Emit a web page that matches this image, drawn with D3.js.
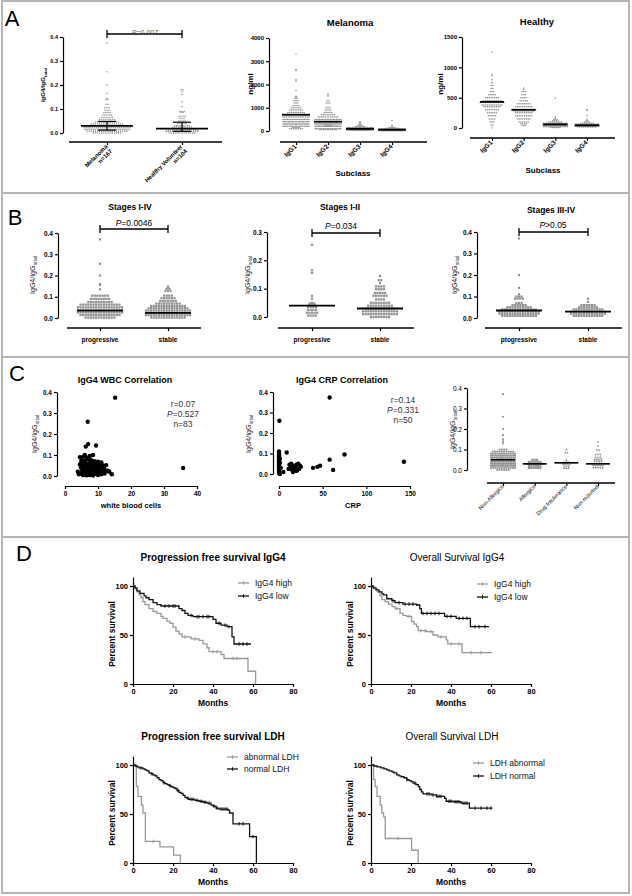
<!DOCTYPE html>
<html><head><meta charset="utf-8">
<script src="https://cdn.jsdelivr.net/npm/d3@7"></script>
<style>body{margin:0;background:#fff}svg{display:block}</style>
</head><body><script>
// ================= DATA =================
// Panel A left: IgG4/IgGtotal, rows of [value, count]
const aLeftCats = ["Melanoma", "Healthy Volunteer"];
const aLeftN = ["n=167", "n=104"];
const aLeftMelanoma = [[0.375,1],[0.255,1],[0.2,1],[0.165,1],[0.145,1],[0.14,2],[0.12,2],[0.105,3],[0.095,3],[0.085,4],[0.075,5],[0.065,6],[0.055,8],[0.046,12],[0.038,16],[0.03,22],[0.022,23],[0.015,22],[0.007,20],[0,14]];
const aLeftHealthy = [[0.18,2],[0.172,1],[0.16,1],[0.13,1],[0.11,1],[0.09,3],[0.085,2],[0.07,4],[0.06,3],[0.05,4],[0.04,5],[0.03,8],[0.025,10],[0.018,14],[0.012,16],[0.006,16],[0,13]];
const aLeftMedian = [0.03, 0.018];
const aLeftQ1 = [0.012, 0.007];
const aLeftQ3 = [0.048, 0.045];
const aLeftTicks = [0, 0.1, 0.2, 0.3, 0.4];

// Panel A middle / right: subclasses (ng/ml)
const subclasses = ["IgG1", "IgG2", "IgG3", "IgG4"];
const melIgG1 = [[3300,1],[2650,1],[2600,1],[2200,1],[2150,1],[1750,1],[1500,1],[1450,2],[1400,2],[1300,3],[1200,3],[1100,4],[1000,6],[900,8],[800,10],[700,14],[600,16],[500,18],[400,20],[300,22],[200,18],[150,5],[100,8]];
const melIgG2 = [[1600,1],[1550,1],[1500,1],[1300,2],[1200,3],[1000,3],[900,4],[800,5],[700,8],[600,12],[500,18],[400,24],[300,26],[250,5],[200,24],[100,20],[50,10]];
const melIgG3 = [[400,1],[380,1],[350,1],[300,2],[250,3],[200,6],[150,20],[120,25],[100,30],[80,30],[60,25],[40,20],[20,10]];
const melIgG4 = [[450,1],[250,1],[200,1],[150,4],[120,8],[100,15],[80,25],[60,35],[40,35],[25,30],[10,12]];
const melMedian = [700, 400, 90, 55];
const melTicks = [0, 1000, 2000, 3000, 4000];
const heaIgG1 = [[1250,1],[880,1],[860,1],[800,1],[760,1],[740,1],[700,2],[650,2],[600,3],[550,5],[500,8],[450,12],[420,15],[380,12],[350,10],[300,8],[250,6],[200,5],[150,4],[100,3],[50,2],[0,1]];
const heaIgG2 = [[660,1],[640,1],[600,3],[550,3],[500,4],[450,5],[400,8],[350,10],[300,16],[280,12],[250,10],[200,10],[150,8],[100,6],[70,4],[40,3]];
const heaIgG3 = [[490,1],[180,1],[160,1],[140,3],[120,4],[100,8],[80,15],[60,25],[40,25],[20,15],[10,6]];
const heaIgG4 = [[310,1],[290,1],[200,1],[150,1],[120,2],[100,4],[80,8],[60,20],[45,30],[30,25],[15,11]];
const heaMedian = [430, 300, 60, 45];
const heaTicks = [0, 500, 1000, 1500];

// Panel B: progressive vs stable
const stageCats = ["progressive", "stable"];
const stageCats3 = ["ptogressive", "stable"];
const bAllProg = [[0.37,1],[0.255,1],[0.2,1],[0.16,1],[0.155,1],[0.135,1],[0.105,7],[0.09,8],[0.075,10],[0.063,16],[0.05,18],[0.038,18],[0.026,18],[0.014,16],[0.002,12]];
const bAllStable = [[0.148,1],[0.138,2],[0.128,3],[0.105,4],[0.093,6],[0.08,7],[0.068,10],[0.057,14],[0.046,16],[0.035,18],[0.024,18],[0.013,18],[0.002,14]];
const bAllMedian = [0.035, 0.024];
const bEarlyProg = [[0.255,1],[0.165,1],[0.155,1],[0.075,1],[0.065,1],[0.05,2],[0.045,3],[0.035,4],[0.025,4],[0.015,5],[0.005,4]];
const bEarlyStable = [[0.145,1],[0.13,2],[0.12,1],[0.108,4],[0.098,4],[0.085,5],[0.075,6],[0.062,4],[0.05,8],[0.04,10],[0.03,12],[0.02,14],[0.01,14],[0.0,8]];
const bEarlyMedian = [0.04, 0.03];
const bLateProg = [[0.37,1],[0.2,1],[0.14,1],[0.11,1],[0.1,3],[0.09,4],[0.07,3],[0.06,6],[0.05,10],[0.04,14],[0.03,16],[0.02,16],[0.01,14]];
const bLateStable = [[0.09,1],[0.075,1],[0.06,6],[0.05,8],[0.04,12],[0.03,14],[0.02,14],[0.01,12]];
const bLateMedian = [0.035, 0.03];
const ratioTicks4 = [0, 0.1, 0.2, 0.3, 0.4];
const ratioTicks3 = [0, 0.1, 0.2, 0.3];

// Panel C: correlations [x, IgG4 ratio]
const wbcPoints = [[15.2,0.373],[6.9,0.258],[7,0.152],[6.3,0.14],[9.4,0.145],[4.5,0.09],[5.5,0.092],[6.5,0.088],[7.5,0.095],[8.5,0.1],[6,0.1],[7,0.08],[8,0.075],[9,0.07],[10,0.068],[11,0.065],[5,0.075],[6,0.07],[7.5,0.065],[8.5,0.06],[9.5,0.058],[10.5,0.055],[11.5,0.05],[12.5,0.052],[5.5,0.055],[6.5,0.05],[7.5,0.045],[8.5,0.048],[9.5,0.042],[10.5,0.04],[11.5,0.038],[4.8,0.04],[5.8,0.038],[6.8,0.035],[7.8,0.033],[8.8,0.03],[9.8,0.032],[10.8,0.028],[12,0.03],[13,0.025],[5.2,0.025],[6.2,0.028],[7.2,0.022],[8.2,0.02],[9.2,0.018],[10.2,0.02],[11.2,0.015],[12.2,0.025],[13.4,0.02],[14.2,0.008],[4.2,0.008],[5,0.012],[6,0.01],[7,0.015],[8,0.008],[9,0.01],[10,0.005],[11,0.008],[6.5,0.003],[7.5,0.005],[8.5,0.002],[5.5,0.004],[35.8,0.038],[6.2,0.06],[7.2,0.058],[8.2,0.052],[9.2,0.05],[10.2,0.047],[4.5,0.055],[5.5,0.045],[6.5,0.042],[7.5,0.04],[8.5,0.037],[9.5,0.035],[10.5,0.033],[3.9,0.02],[12,0.012],[9.8,0.012],[6.8,0.02],[7.8,0.028],[8.8,0.043],[11.8,0.044],[5,0.065]];
const wbcStats = ["r=0.07", "P=0.527", "n=83"];
const wbcTicks = [0, 10, 20, 30, 40];
const crpPoints = [[0.4,0.26],[0,0.11],[0,0.1],[0,0.09],[0,0.085],[0,0.08],[0,0.07],[0,0.065],[0,0.06],[0,0.05],[0,0.045],[0,0.04],[0,0.035],[0,0.03],[0,0.025],[0,0.02],[0,0.015],[0,0.01],[0,0.005],[1,0.0],[1,0.055],[1,0.075],[2,0.03],[8.8,0.105],[12,0.045],[14,0.05],[16,0.04],[18,0.035],[20,0.045],[22,0.05],[24,0.04],[15,0.02],[17,0.025],[19,0.03],[21,0.02],[23,0.025],[13,0.03],[11,0.025],[25,0.035],[16,0.01],[20,0.015],[39,0.03],[44,0.035],[47,0.04],[58,0.373],[58,0.07],[62,0.02],[75,0.095],[143,0.06],[5,0.01]];
const crpStats = ["r=0.14", "P=0.331", "n=50"];
const crpTicks = [0, 50, 100, 150];
// Panel C right: allergy groups
const allergyCats = ["Non-Allergics", "Allergics", "Drug Intolerance", "Non-reported"];
const nonAllergics = [[0.37,1],[0.26,1],[0.2,1],[0.17,1],[0.15,1],[0.14,1],[0.13,1],[0.1,4],[0.09,10],[0.08,12],[0.07,14],[0.06,14],[0.05,16],[0.04,16],[0.03,16],[0.02,14],[0.01,12],[0.0,6]];
const allergics = [[0.05,3],[0.04,6],[0.03,8],[0.02,6],[0.01,6]];
const drugIntol = [[0.1,1],[0.085,2],[0.05,1],[0.04,3],[0.035,4],[0.03,4],[0.02,3],[0.01,3]];
const nonReported = [[0.135,1],[0.115,1],[0.095,2],[0.075,3],[0.06,3],[0.05,4],[0.04,4],[0.03,6],[0.02,5],[0.01,5]];
const allergyMedian = [0.05, 0.03, 0.035, 0.03];

// Panel D: Kaplan-Meier steps [month, % survival] and censor times
const monthTicks = [0, 20, 40, 60, 80];
const survTicks = [0, 50, 100];
const pfsIgG4High = [[0,100],[1,97],[2,94],[3,91],[4,88],[5,84],[6,81],[8,77],[10,74],[12,72],[14,69],[15,67],[17,64],[18.5,62],[20,58],[21.5,54],[23,51],[24.5,48],[29,46],[33,44.5],[35,41],[37,37],[38,33],[44,30],[45.5,26],[57.5,13],[61.3,0]];
const pfsIgG4HighCens = [26,31,40,42,50,52];
const pfsIgG4Low = [[0,100],[1,98],[2,95],[3.5,92.5],[5.5,90],[6.5,88],[8,86],[10,83],[12,81],[14,79.6],[23,77],[24.5,75],[26,72],[27.5,70],[30,68.7],[40,66],[41.5,62],[44,60],[47,58.5],[49.5,48],[50.5,40.8],[59,40.8]];
const pfsIgG4LowCens = [16,18,20,21,29,32,33,35,37,38,43,46,48,53,55,57];
const osIgG4High = [[0,100],[1.5,97],[3,94],[4.5,90],[5.4,86],[7,84],[8.7,81.6],[10.5,79],[12,77],[14.5,72],[16,70],[17.8,69],[20.3,64],[21.5,61],[22.8,58.5],[23.6,54.4],[27.7,53.4],[31,50],[33.5,48],[37.6,45],[38.4,41],[45.5,32],[60.7,32]];
const osIgG4HighCens = [13,19,25,27,30,35,40,44,50,55];
const osIgG4Low = [[0,100],[1,98],[2.5,96],[4,94],[5.5,92],[6.3,91],[7.9,87],[10.4,85],[12,83],[16,81.6],[22.8,80.6],[24.4,77],[25.2,72],[36,72],[36.8,69],[42.6,67],[49.2,67],[49.7,58.5],[59,58.5]];
const osIgG4LowCens = [11,14,17,19,21,26,28,30,32,34,38,40,44,46,48,52,54,57];
const pfsLdhAbn = [[0,100],[1.7,78],[2.5,68],[4.2,59],[5,51],[6.2,22],[13.5,16.4],[20.3,8],[23.7,0]];
const pfsLdhAbnCens = [10];
const pfsLdhNorm = [[0,100],[1,99],[2,98],[3,97],[5,96],[6,95],[7,94],[8,92],[9,91],[10,90],[11,89],[12,87],[13,85],[14,84],[15,82],[16,81],[17,80],[18,79],[19,78],[20,77],[21,76],[22,74],[23,72],[24,71],[25,69],[26,67],[27,66],[28,65],[31,64],[33,63],[35,62],[37,61],[39,59],[40,58],[41.5,56],[43,55],[47.5,54],[48.3,51],[50,40],[54,40],[58.3,27],[61.7,0]];
const pfsLdhNormCens = [4,9.5,15.5,18.5,22.5,27.5,29,30,32,34,36,38,40.5,42,44,45,46,47,53,55,60];
const osLdhAbn = [[0,100],[1.3,85],[2.1,78],[3,68],[4.6,59],[5.4,51],[6.3,47],[7.1,25],[20.3,13],[23.6,0]];
const osLdhAbnCens = [13.5];
const osLdhNorm = [[0,100],[1.5,99],[3,98],[5,97],[6.5,96],[7.9,95],[9,94],[10.5,93],[11.5,92],[12.9,90],[14,89],[15,88],[16.5,87],[17.8,85],[19,84],[20,83],[21,81.5],[22.5,80],[23.6,78],[24.4,75],[25.2,72.5],[26,70.5],[30,69.5],[32.7,68],[36.8,66],[37.6,63],[41,62.5],[45,61],[49.2,56],[60.7,56]];
const osLdhNormCens = [18,22,28,29,31,33,34,35,39,40,42,43,44,46,47,48,52,55,58,60];

// ================= DRAWING =================
const FONT = '"Liberation Sans", Arial, Helvetica, sans-serif';
const svg = d3.select("body").append("svg").attr("width", 632).attr("height", 896).attr("font-family", FONT);
svg.append("rect").attr("width", 632).attr("height", 896).attr("fill", "#fff");

// frame and separators
const FRAME = "#b5b5b5";
svg.append("rect").attr("x", 2).attr("y", 1).attr("width", 627).attr("height", 892).attr("fill", "none").attr("stroke", FRAME).attr("stroke-width", 2);
[193, 357, 537].forEach(yy => svg.append("line").attr("x1", 2).attr("x2", 629).attr("y1", yy).attr("y2", yy).attr("stroke", FRAME).attr("stroke-width", 2));

function txt(x, y, s, o = {}) {
  return svg.append("text").attr("x", x).attr("y", y).attr("text-anchor", o.anchor || "middle")
    .attr("font-size", o.size || 8).attr("font-weight", o.bold ? "bold" : "normal")
    .attr("fill", o.fill || "#000").text(s);
}
function ptext(x, y, rest, o = {}) {
  const t = svg.append("text").attr("x", x).attr("y", y).attr("text-anchor", o.anchor || "middle")
    .attr("font-size", o.size || 8).attr("fill", o.fill || "#000");
  t.append("tspan").attr("font-style", "italic").text("P");
  t.append("tspan").text(rest);
  return t;
}
function vtitle(x, cy, s, o = {}) {
  return svg.append("text").attr("transform", `translate(${x},${cy}) rotate(-90)`).attr("text-anchor", "middle")
    .attr("font-size", o.size || 8).attr("font-weight", o.bold ? "bold" : "normal").attr("fill", o.fill || "#000").text(s);
}
function ratioTitle(x, cy, size, bold, fill) {
  const t = svg.append("text").attr("transform", `translate(${x},${cy}) rotate(-90)`).attr("text-anchor", "middle")
    .attr("font-size", size).attr("font-weight", bold ? "bold" : "normal").attr("fill", fill || "#000");
  t.append("tspan").text("IgG4/IgG");
  t.append("tspan").attr("font-size", size * 0.72).attr("dy", size * 0.28).text("total");
}
function styleAxis(a, size, bold) {
  a.attr("font-family", FONT).attr("font-size", size);
  a.select(".domain").attr("stroke", "#000").attr("stroke-width", 1.2);
  a.selectAll(".tick line").attr("stroke", "#000").attr("stroke-width", 1.2);
  a.selectAll("text").attr("font-weight", bold ? "bold" : "normal").attr("fill", "#000");
}
function bracket(x1, x2, y) {
  const p = d3.path();
  p.moveTo(x1, y + 4); p.lineTo(x1, y - 4); p.moveTo(x1, y); p.lineTo(x2, y); p.moveTo(x2, y - 4); p.lineTo(x2, y + 4);
  svg.append("path").attr("d", p.toString()).attr("stroke", "#000").attr("stroke-width", 1.3).attr("fill", "none");
}
function marker(g, type, x, y, s, fill) {
  if (type === "circle") g.append("circle").attr("cx", x).attr("cy", y).attr("r", s / 2).attr("fill", fill);
  else if (type === "square") g.append("rect").attr("x", x - s / 2).attr("y", y - s / 2).attr("width", s).attr("height", s).attr("fill", fill);
  else {
    const h = s * 0.9, dir = type === "triangle" ? 1 : -1;
    g.append("path").attr("d", `M${x},${y - dir * h * 0.6}L${x + s * 0.6},${y + dir * h * 0.5}L${x - s * 0.6},${y + dir * h * 0.5}Z`).attr("fill", fill);
  }
}

function dotPlot(c) {
  const y = d3.scaleLinear().domain(c.domain).range([c.yBot, c.yTop]);
  const x = d3.scalePoint().domain(c.cats).range(c.catRange);
  const g = svg.append("g");
  const ya = g.append("g").attr("transform", `translate(${c.yx},0)`)
    .call(d3.axisLeft(y).tickValues(c.ticks).tickFormat(c.fmt).tickSize(3).tickSizeOuter(0).tickPadding(2));
  styleAxis(ya, c.tickSize, c.tickBold);
  const xa = g.append("g").attr("transform", `translate(0,${c.xy})`)
    .call(d3.axisBottom(x).tickSize(3).tickSizeOuter(0).tickFormat(""));
  xa.select(".domain").remove();
  xa.selectAll(".tick line").attr("stroke", "#000").attr("stroke-width", 1.2);
  xa.append("line").attr("x1", c.xl[0]).attr("x2", c.xl[1]).attr("stroke", "#000").attr("stroke-width", 1.3);
  // category labels
  c.cats.forEach((cat, i) => {
    const cx = x(cat);
    const lines = c.labels ? c.labels[i] : [cat];
    if (c.rotate) {
      const t = svg.append("text").attr("transform", `translate(${cx + c.rot[0]},${c.xy + c.rot[1]}) rotate(-45)`)
        .attr("text-anchor", "end").attr("font-size", c.labelSize).attr("font-weight", c.labelBold ? "bold" : "normal").attr("fill", "#000");
      lines.forEach((l, k) => t.append("tspan").attr("x", 0).attr("dy", k === 0 ? 0 : "1.1em").text(l));
    } else {
      txt(cx, c.xy + c.labelDy, lines[0], { size: c.labelSize, bold: c.labelBold });
    }
  });
  // dots
  c.groups.forEach((rows, i) => {
    const cx = x(c.cats[i]);
    const type = c.markers ? c.markers[i] : (c.marker || "circle");
    rows.forEach(([v, n]) => {
      const s = n > 1 ? Math.min(c.spacing, 2 * c.maxHalf / (n - 1)) : 0;
      for (let k = 0; k < n; k++) marker(g, type, cx + (k - (n - 1) / 2) * s, y(v), c.size, c.fill);
    });
    g.append("line").attr("x1", cx - c.medHalf).attr("x2", cx + c.medHalf)
      .attr("y1", y(c.medians[i])).attr("y2", y(c.medians[i])).attr("stroke", "#000").attr("stroke-width", c.medW || 1.6);
    if (c.q1) {
      g.append("line").attr("x1", cx).attr("x2", cx).attr("y1", y(c.q1[i])).attr("y2", y(c.q3[i])).attr("stroke", "#000").attr("stroke-width", 1.2);
      [c.q1[i], c.q3[i]].forEach(q => g.append("line").attr("x1", cx - c.capHalf).attr("x2", cx + c.capHalf)
        .attr("y1", y(q)).attr("y2", y(q)).attr("stroke", "#000").attr("stroke-width", 1.2));
    }
  });
  return { x, y };
}

const fmt1 = d3.format(".1f");
const fmtD = d3.format("d");

// ---------- Panel A ----------
txt(12, 26, "A", { size: 22 });
dotPlot({ domain: [0, 0.4], yTop: 37, yBot: 133, yx: 63, ticks: aLeftTicks, fmt: fmt1, tickSize: 5.5, tickBold: true,
  cats: aLeftCats, catRange: [107, 182], xy: 142, xl: [69, 222], rotate: true, rot: [1, 5],
  labels: [[aLeftCats[0], aLeftN[0]], [aLeftCats[1], aLeftN[1]]], labelSize: 6, labelBold: true,
  groups: [aLeftMelanoma, aLeftHealthy], marker: "circle", size: 1.5, fill: "#8a8a8a", spacing: 2.1, maxHalf: 26,
  medians: aLeftMedian, medHalf: 26, medW: 1.8, q1: aLeftQ1, q3: aLeftQ3, capHalf: 9 });
ratioTitle(45, 85, 6, true);
bracket(107, 182, 34);
ptext(145, 35, "=0.007", { size: 7, fill: "#555" });

dotPlot({ domain: [0, 4000], yTop: 38, yBot: 131, yx: 269, ticks: melTicks, fmt: fmtD, tickSize: 6, tickBold: true,
  cats: subclasses, catRange: [296, 392], xy: 142, xl: [280, 427], rotate: true, rot: [1, 5], labelSize: 6.5, labelBold: true,
  groups: [melIgG1, melIgG2, melIgG3, melIgG4], marker: "circle", size: 1.5, fill: "#8a8a8a", spacing: 1.8, maxHalf: 13,
  medians: melMedian, medHalf: 14, medW: 1.8 });
txt(350, 26, "Melanoma", { size: 9.5, bold: true });
vtitle(253, 84, "ng/ml", { size: 8, bold: true });
txt(353, 176, "Subclass", { size: 8, bold: true });

dotPlot({ domain: [0, 1500], yTop: 37, yBot: 128, yx: 462, ticks: heaTicks, fmt: fmtD, tickSize: 6, tickBold: true,
  cats: subclasses, catRange: [492, 587], xy: 138, xl: [470, 615], rotate: true, rot: [1, 5], labelSize: 6.5, labelBold: true,
  groups: [heaIgG1, heaIgG2, heaIgG3, heaIgG4], marker: "circle", size: 1.5, fill: "#8a8a8a", spacing: 1.8, maxHalf: 12,
  medians: heaMedian, medHalf: 12, medW: 1.8 });
txt(537, 25, "Healthy", { size: 9.5, bold: true });
vtitle(443, 84, "ng/ml", { size: 8, bold: true });
txt(543, 173, "Subclass", { size: 8, bold: true });

// ---------- Panel B ----------
txt(15, 225, "B", { size: 22 });
const bCommon = { tickSize: 6.5, tickBold: true, rotate: false, labelSize: 6.5, labelBold: true, labelDy: 14,
  marker: "square", size: 2.2, fill: "#8f8f8f", spacing: 2.6, maxHalf: 22, medHalf: 23, medW: 1.8 };
dotPlot(Object.assign({}, bCommon, { domain: [0, 0.4], yTop: 233, yBot: 318, yx: 58, ticks: ratioTicks4, fmt: fmt1,
  cats: stageCats, catRange: [100, 168], xy: 328, xl: [67, 201], groups: [bAllProg, bAllStable], medians: bAllMedian }));
txt(130, 210, "Stages I-IV", { size: 8.5, bold: true });
bracket(100, 168, 229);
ptext(134, 226, "=0.0046", { size: 8.5 });
ratioTitle(35, 275, 7, false, "#222");

dotPlot(Object.assign({}, bCommon, { domain: [0, 0.3], yTop: 232, yBot: 317, yx: 267, ticks: ratioTicks3, fmt: fmt1,
  cats: stageCats, catRange: [312, 380], xy: 328, xl: [278, 414], groups: [bEarlyProg, bEarlyStable], medians: bEarlyMedian }));
txt(340, 210, "Stages I-II", { size: 8.5, bold: true });
bracket(312, 380, 233);
ptext(341, 229, "=0.034", { size: 8.5 });
ratioTitle(250, 275, 7, false, "#222");

dotPlot(Object.assign({}, bCommon, { domain: [0, 0.4], yTop: 232, yBot: 318, yx: 477, ticks: ratioTicks4, fmt: fmt1,
  cats: stageCats3, catRange: [519, 588], xy: 328, xl: [485, 622], groups: [bLateProg, bLateStable], medians: bLateMedian }));
txt(551, 213, "Stages III-IV", { size: 8.5, bold: true });
bracket(519, 588, 232);
ptext(553, 228, ">0.05", { size: 8.5 });
ratioTitle(457, 275, 7, false, "#222");

// ---------- Panel C ----------
txt(17, 381, "C", { size: 22 });
function scatter(c) {
  const x = d3.scaleLinear().domain(c.xdomain).range(c.xr);
  const y = d3.scaleLinear().domain([0, 0.4]).range([c.yBot, c.yTop]);
  const ya = svg.append("g").attr("transform", `translate(${c.yx},0)`)
    .call(d3.axisLeft(y).tickValues(ratioTicks4).tickFormat(fmt1).tickSize(3).tickSizeOuter(0).tickPadding(2));
  styleAxis(ya, 6.5, true);
  const xa = svg.append("g").attr("transform", `translate(0,${c.xy})`)
    .call(d3.axisBottom(x).tickValues(c.xticks).tickFormat(fmtD).tickSize(3).tickSizeOuter(0).tickPadding(2));
  styleAxis(xa, 6.5, true);
  svg.append("g").selectAll("circle").data(c.points).join("circle")
    .attr("cx", d => x(d[0])).attr("cy", d => y(d[1])).attr("r", 2.2).attr("fill", "#000");
  const t = svg.append("text").attr("text-anchor", "middle").attr("font-size", 8.5).attr("fill", "#333");
  c.stats.forEach((s, k) => {
    const ts = t.append("tspan").attr("x", c.sx).attr("y", c.sy + k * 10);
    if (s.startsWith("P")) { ts.append("tspan").attr("font-style", "italic").text("P"); ts.append("tspan").text(s.slice(1)); }
    else ts.text(s);
  });
}
scatter({ xdomain: [0, 40], xr: [65, 197], yx: 57, yTop: 392, yBot: 476, xy: 486, xticks: wbcTicks, points: wbcPoints, stats: wbcStats, sx: 183, sy: 407 });
txt(125, 383, "IgG4 WBC Correlation", { size: 9, bold: true });
ratioTitle(37, 434, 7, false, "#222");
txt(131, 508, "white blood cells", { size: 7.5, bold: true });

scatter({ xdomain: [0, 150], xr: [279, 410], yx: 273, yTop: 392, yBot: 474, xy: 486, xticks: crpTicks, points: crpPoints, stats: crpStats, sx: 403, sy: 403 });
txt(342, 383, "IgG4 CRP Correlation", { size: 9, bold: true });
ratioTitle(251, 434, 7, false, "#222");
txt(353, 508, "CRP", { size: 7.5, bold: true });

dotPlot({ domain: [0, 0.4], yTop: 388, yBot: 470, yx: 467, ticks: ratioTicks4, fmt: fmt1, tickSize: 6.5, tickBold: false,
  cats: allergyCats, catRange: [503, 598], xy: 483, xl: [487, 615], rotate: true, rot: [1, 4], labelSize: 5.5, labelBold: false,
  groups: [nonAllergics, allergics, drugIntol, nonReported], markers: ["circle", "square", "triangle", "triangleDown"],
  size: 2.1, fill: "#8f8f8f", spacing: 2.3, maxHalf: 12, medians: allergyMedian, medHalf: 12, medW: 1.6 });
ratioTitle(455, 430, 7, false, "#222");

// ---------- Panel D ----------
txt(24, 561, "D", { size: 22 });
function km(c) {
  const x = d3.scaleLinear().domain([0, 80]).range([c.x0, c.x0 + 160]);
  const k = (c.yBot - c.y100) / 100;
  const y = d3.scaleLinear().domain([0, 109]).range([c.yBot, c.yBot - 109 * k]);
  const ya = svg.append("g").attr("transform", `translate(${c.x0},0)`)
    .call(d3.axisLeft(y).tickValues(survTicks).tickFormat(fmtD).tickSize(3).tickSizeOuter(0).tickPadding(2));
  styleAxis(ya, 7.5, true);
  const xa = svg.append("g").attr("transform", `translate(0,${c.yBot})`)
    .call(d3.axisBottom(x).tickValues(monthTicks).tickFormat(fmtD).tickSize(3).tickSizeOuter(0).tickPadding(2));
  styleAxis(xa, 7.5, true);
  txt(c.x0 + 80, c.yBot + 22, "Months", { size: 8.5, bold: true });
  vtitle(c.x0 - 18, c.yBot - 50, "Percent survival", { size: 8.5, bold: true });
  txt(c.tx, c.yBot - 123, c.title, { size: 10, bold: c.bold });
  const line = d3.line().x(d => x(d[0])).y(d => y(d[1])).curve(d3.curveStepAfter);
  c.curves.forEach((cv, i) => {
    svg.append("path").datum(cv.data).attr("d", line).attr("fill", "none").attr("stroke", cv.color).attr("stroke-width", 1.3);
    cv.cens.forEach(t => {
      let v = cv.data[0][1];
      cv.data.forEach(d => { if (d[0] <= t) v = d[1]; });
      svg.append("line").attr("x1", x(t)).attr("x2", x(t)).attr("y1", y(v) - 1.8).attr("y2", y(v) + 1.8).attr("stroke", cv.color).attr("stroke-width", 1);
    });
    const ly = c.legY + i * c.legGap;
    svg.append("line").attr("x1", c.legX).attr("x2", c.legX + 11).attr("y1", ly).attr("y2", ly).attr("stroke", cv.color).attr("stroke-width", 1.3);
    svg.append("line").attr("x1", c.legX + 5.5).attr("x2", c.legX + 5.5).attr("y1", ly - 1.8).attr("y2", ly + 1.8).attr("stroke", cv.color).attr("stroke-width", 1);
    txt(c.legX + 17, ly + 3, cv.name, { size: 8.5, anchor: "start", fill: "#111" });
  });
}
const GREY = "#999", BLACK = "#111";
km({ x0: 133, y100: 586, yBot: 684, title: "Progression free survival IgG4", bold: true, tx: 213, legX: 238, legY: 583, legGap: 13,
  curves: [{ data: pfsIgG4High, cens: pfsIgG4HighCens, color: GREY, name: "IgG4 high" }, { data: pfsIgG4Low, cens: pfsIgG4LowCens, color: BLACK, name: "IgG4 low" }] });
km({ x0: 371, y100: 586, yBot: 684, title: "Overall Survival IgG4", bold: false, tx: 457, legX: 477, legY: 584, legGap: 13,
  curves: [{ data: osIgG4High, cens: osIgG4HighCens, color: GREY, name: "IgG4 high" }, { data: osIgG4Low, cens: osIgG4LowCens, color: BLACK, name: "IgG4 low" }] });
km({ x0: 133, y100: 765, yBot: 863, title: "Progression free survival LDH", bold: true, tx: 213, legX: 227, legY: 757, legGap: 12,
  curves: [{ data: pfsLdhAbn, cens: pfsLdhAbnCens, color: GREY, name: "abnormal LDH" }, { data: pfsLdhNorm, cens: pfsLdhNormCens, color: BLACK, name: "normal LDH" }] });
km({ x0: 371, y100: 765, yBot: 863, title: "Overall Survival LDH", bold: false, tx: 452, legX: 473, legY: 763, legGap: 13,
  curves: [{ data: osLdhAbn, cens: osLdhAbnCens, color: GREY, name: "LDH abnormal" }, { data: osLdhNorm, cens: osLdhNormCens, color: BLACK, name: "LDH normal" }] });
</script></body></html>
